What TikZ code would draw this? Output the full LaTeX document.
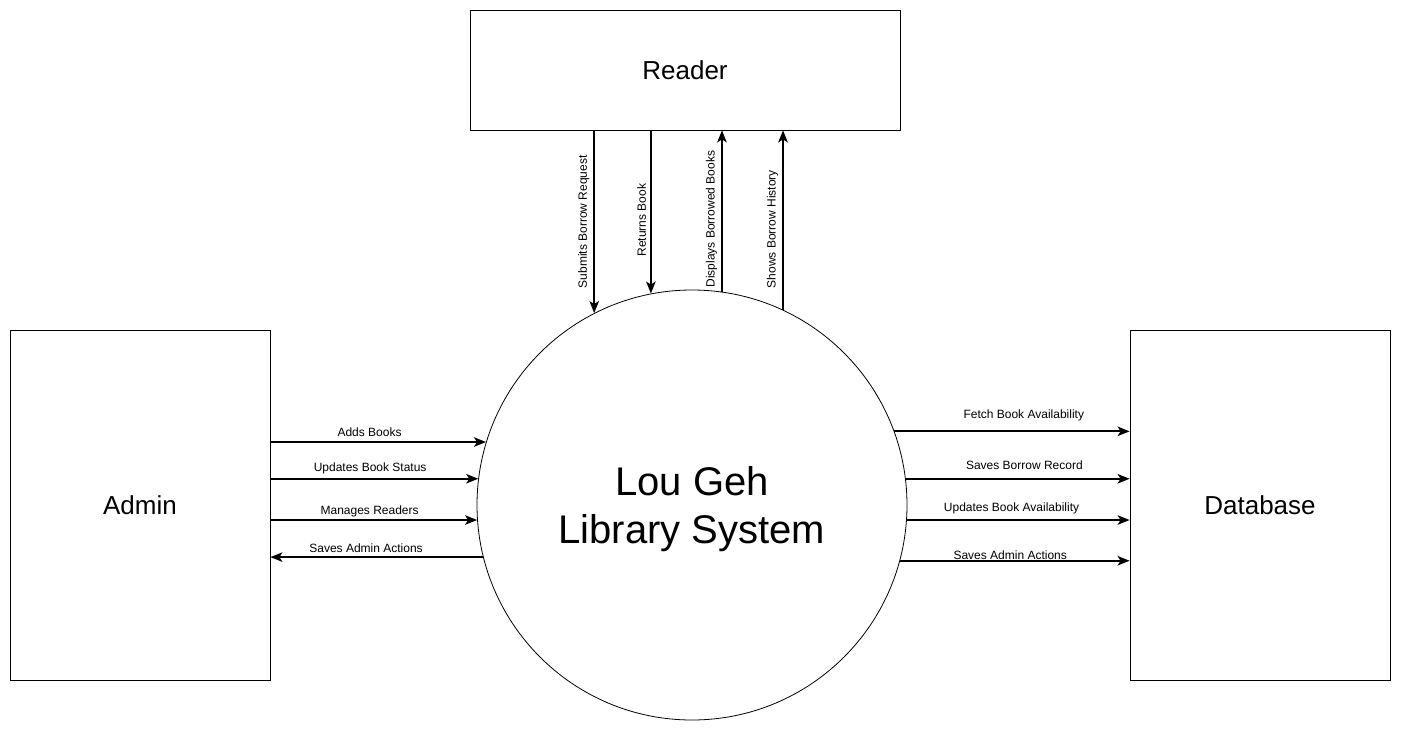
\documentclass[tikz,border=0pt]{standalone}
\usepackage{fontspec}
\setmainfont{Liberation Sans}
\usetikzlibrary{arrows.meta}
\begin{document}
\begin{tikzpicture}[x=1pt,y=-1pt,
  entity/.style={draw,line width=0.8pt,rectangle,inner sep=0pt,font=\fontsize{26}{31}\selectfont},
  proc/.style={draw,line width=0.8pt,circle,inner sep=0pt,minimum size=430pt},
  proctext/.style={align=center,font=\fontsize{40}{48}\selectfont},
  flow/.style={line width=1.7pt,-{Stealth[length=12pt,width=9.5pt,inset=3pt]}},
  lbl/.style={font=\fontsize{12}{14}\selectfont,inner sep=4pt}]
\useasboundingbox (0,0) rectangle (1401,731);
\node[entity,minimum width=430pt,minimum height=120pt] (reader) at (685,70) {Reader};
\node[entity,minimum width=260pt,minimum height=350pt] (admin) at (140,505) {Admin};
\node[entity,minimum width=260pt,minimum height=350pt] (db) at (1260,505) {Database};
\node[proc] (sys) at (692,505) {};
\node[proctext] (systext) at (692,509) {Lou Geh\\Library System};
% reader flows
\draw[flow] (reader.south -| sys.117.7) -- node[lbl,midway,rotate=90,anchor=south] {Submits Borrow Request} (sys.117.7);
\draw[flow] (reader.south -| sys.101) -- node[lbl,pos=0.55,rotate=90,anchor=south] {Returns Book} (sys.101);
\draw[flow] (sys.82) -- node[lbl,pos=0.45,rotate=90,anchor=south] {Displays Borrowed Books} (reader.south -| sys.82);
\draw[flow] (sys.65.5) -- node[lbl,pos=0.45,rotate=90,anchor=south] {Shows Borrow History} (reader.south -| sys.65.5);
% admin flows
\draw[flow] (sys.163.2 -| admin.east) -- node[lbl,pos=0.46,above,yshift=1pt] {Adds Books} (sys.163.2);
\draw[flow] (sys.173.9 -| admin.east) -- node[lbl,pos=0.48,above] {Updates Book Status} (sys.173.9);
\draw[flow] (sys.184.5 -| admin.east) -- node[lbl,pos=0.48,above,yshift=-2pt] {Manages Readers} (sys.184.5);
\draw[flow] (sys.194.3) -- node[lbl,pos=0.55,above] {Saves Admin Actions} (sys.194.3 -| admin.east);
% database flows
\draw[flow] (sys.20.1) -- node[lbl,pos=0.55,above,yshift=6pt] {Fetch Book Availability} (sys.20.1 -| db.west);
\draw[flow] (sys.7.75) -- node[lbl,pos=0.53,above,yshift=4pt] {Saves Borrow Record} (sys.7.75 -| db.west);
\draw[flow] (sys.-4.27) -- node[lbl,pos=0.47,above,yshift=1pt] {Updates Book Availability} (sys.-4.27 -| db.west);
\draw[flow] (sys.-15.65) -- node[lbl,pos=0.48,above,yshift=-4pt] {Saves Admin Actions} (sys.-15.65 -| db.west);
\end{tikzpicture}
\end{document}
